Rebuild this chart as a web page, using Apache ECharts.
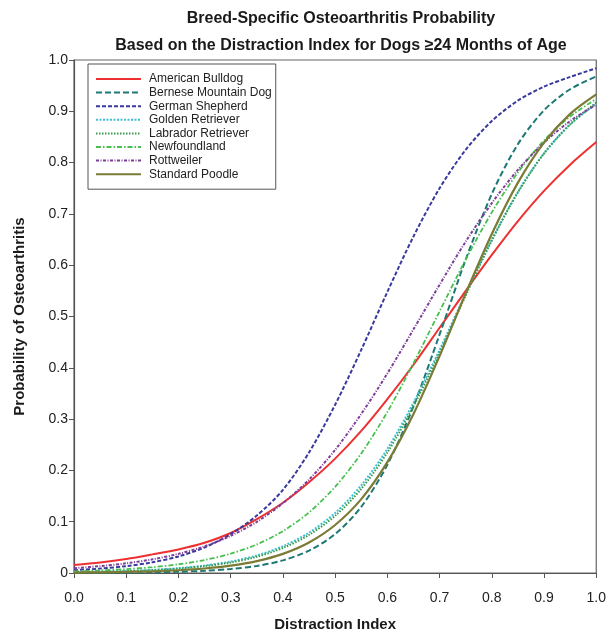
<!DOCTYPE html>
<html>
<head>
<meta charset="utf-8">
<script src="https://cdn.jsdelivr.net/npm/echarts@6/dist/echarts.min.js"></script>
<style>
html,body{margin:0;padding:0;background:#fff;}
#c{width:609px;height:637px;}
</style>
</head>
<body>
<div id="c"></div>
<script>
var distractionIndex = [0,0.05,0.1,0.15,0.2,0.25,0.3,0.35,0.4,0.45,0.5,0.55,0.6,0.65,0.7,0.75,0.8,0.85,0.9,0.95,1.0];
var americanBulldog = [0.0155,0.0206,0.0274,0.0363,0.046,0.059,0.078,0.105,0.137,0.177,0.223,0.277,0.339,0.406,0.478,0.550,0.620,0.686,0.745,0.796,0.840];
var berneseMountainDog = [0.0002,0.0004,0.0007,0.0013,0.0024,0.0043,0.0077,0.0138,0.0246,0.0435,0.0759,0.129,0.211,0.325,0.465,0.611,0.739,0.836,0.902,0.943,0.968];
var germanShepherd = [0.0055,0.0086,0.0134,0.0208,0.0323,0.0497,0.0759,0.112,0.162,0.235,0.328,0.435,0.548,0.656,0.750,0.825,0.881,0.921,0.948,0.967,0.984];
var goldenRetriever = [0.0016,0.0025,0.0039,0.0061,0.0094,0.0145,0.0223,0.0342,0.0522,0.0787,0.117,0.171,0.242,0.332,0.435,0.545,0.650,0.743,0.818,0.874,0.915];
var labradorRetriever = [0.0014,0.0022,0.0035,0.0054,0.0085,0.0133,0.0205,0.0317,0.0488,0.0743,0.1115,0.164,0.235,0.325,0.429,0.541,0.648,0.742,0.818,0.875,0.917];
var newfoundland = [0.0033,0.005,0.0075,0.0113,0.017,0.0253,0.0377,0.0557,0.0817,0.118,0.168,0.233,0.314,0.409,0.510,0.611,0.703,0.781,0.843,0.890,0.924];
var rottweiler = [0.0095,0.0134,0.0189,0.0266,0.0373,0.052,0.0724,0.0998,0.136,0.182,0.240,0.310,0.389,0.475,0.562,0.646,0.721,0.786,0.839,0.881,0.913];
var standardPoodle = [0.0008,0.0013,0.0020,0.0033,0.0054,0.0088,0.0143,0.0232,0.0373,0.0595,0.0936,0.144,0.216,0.310,0.423,0.545,0.661,0.761,0.839,0.895,0.933];
var xTickLabels = ['0.0','0.1','0.2','0.3','0.4','0.5','0.6','0.7','0.8','0.9','1.0'];
var yTickLabels = ['0','0.1','0.2','0.3','0.4','0.5','0.6','0.7','0.8','0.9','1.0'];

var breeds = [
  {name:'American Bulldog', data: americanBulldog, color:'#ee3030', type:'solid', width:2},
  {name:'Bernese Mountain Dog', data: berneseMountainDog, color:'#1e7874', type:[6,3], width:2},
  {name:'German Shepherd', data: germanShepherd, color:'#3a3a9e', type:[4,2], width:2},
  {name:'Golden Retriever', data: goldenRetriever, color:'#3ec0d2', type:[2,1.5], width:2},
  {name:'Labrador Retriever', data: labradorRetriever, color:'#3a9a4c', type:[1.5,1.5], width:2},
  {name:'Newfoundland', data: newfoundland, color:'#48c050', type:[5,2,1.5,2], width:1.8},
  {name:'Rottweiler', data: rottweiler, color:'#7b3d98', type:[3,1.5,1,1.5], width:2},
  {name:'Standard Poodle', data: standardPoodle, color:'#7b7b36', type:'solid', width:2.2}
];

var FONT = '"Liberation Sans", Arial, Helvetica, sans-serif';
var chart = echarts.init(document.getElementById('c'), null, {renderer:'canvas'});
var series = breeds.map(function(b){
  return {
    name: b.name, type:'line', smooth:0.3, showSymbol:false, symbol:'none',
    data: distractionIndex.map(function(x,i){return [x, b.data[i]];}),
    lineStyle:{color:b.color, width:b.width, type:b.type},
    itemStyle:{color:b.color},
    z: 2
  };
});
chart.setOption({
  animation:false,
  backgroundColor:'#fff',
  title:{
    text:'Breed-Specific Osteoarthritis Probability\nBased on the Distraction Index for Dogs \u226524 Months of Age',
    left:336, textAlign:'center', top:0,
    textStyle:{fontFamily:FONT, fontSize:16, fontWeight:'bold', color:'#1a1a1a', lineHeight:27}
  },
  grid:{left:74, right:11, top:60, bottom:59, show:true, borderColor:'#666', borderWidth:1.2, backgroundColor:'transparent'},
  legend:{
    orient:'vertical', left:88, top:64,
    backgroundColor:'#fff', borderColor:'#555', borderWidth:1,
    padding:[9,4,9,7],
    itemWidth:45, itemHeight:10, itemGap:1.6,
    itemStyle:{opacity:0, borderWidth:0},
    textStyle:{fontFamily:FONT, fontSize:12, color:'#222', padding:[0,0,0,3], lineHeight:12},
    data: breeds.map(function(b){return b.name;})
  },
  xAxis:{
    type:'value', min:0, max:1, interval:0.1,
    name:'Distraction Index', nameLocation:'middle', nameGap:44,
    nameTextStyle:{fontFamily:FONT, fontSize:15, fontWeight:'bold', color:'#1a1a1a'},
    axisLine:{show:true, lineStyle:{color:'#555', width:1.2}},
    axisTick:{show:true, length:5, lineStyle:{color:'#555'}},
    axisLabel:{fontFamily:FONT, fontSize:14, color:'#222', margin:18,
      formatter:function(v){return xTickLabels[Math.round(v*10)];}},
    splitLine:{show:false}
  },
  yAxis:{
    type:'value', min:0, max:1, interval:0.1,
    name:'Probability of Osteoarthritis', nameLocation:'middle', nameGap:47,
    nameTextStyle:{fontFamily:FONT, fontSize:15, fontWeight:'bold', color:'#1a1a1a'},
    axisLine:{show:true, lineStyle:{color:'#555', width:1.2}},
    axisTick:{show:true, length:5, lineStyle:{color:'#555'}},
    axisLabel:{fontFamily:FONT, fontSize:14, color:'#222', margin:6,
      formatter:function(v){return yTickLabels[Math.round(v*10)];}},
    splitLine:{show:false}
  },
  series: series
});
</script>
</body>
</html>
